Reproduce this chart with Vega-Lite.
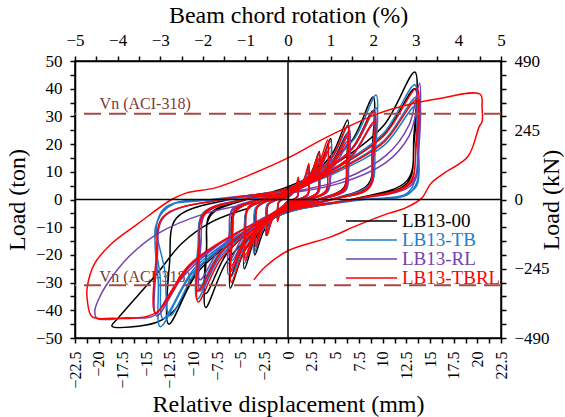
{
"$schema":"https://vega.github.io/schema/vega-lite/v6.json",
"width":426,"height":277,
"autosize":{"type":"none"},
"padding":{"left":75,"top":61,"right":64,"bottom":79},
"background":"white",
"config":{
"font":"Liberation Serif",
"view":{"stroke":"black","strokeWidth":1.5},
"axis":{"grid":false,"domainColor":"black","domainWidth":1.5,"tickColor":"black","tickWidth":1.5,"labelColor":"black","titleColor":"black","labelFont":"Liberation Serif","titleFont":"Liberation Serif","titleFontWeight":"normal","labelFontSize":17,"titleFontSize":24,"labelFlush":false,"labelOverlap":false,"tickSize":5}
},
"datasets":{
"b":[{"x":0,"y":0},
{"x":0,"y":0.7},{"x":0.4,"y":2.1},{"x":0.8,"y":4.1},{"x":1.1,"y":7},{"x":1.1,"y":3.5},{"x":1,"y":1.1},{"x":0.6,"y":0},{"x":0,"y":-0.7},{"x":-0.4,"y":-2.1},{"x":-0.8,"y":-4.1},{"x":-1.1,"y":-7},{"x":-1.1,"y":-3.5},{"x":-1,"y":-1.1},{"x":-0.6,"y":0},
{"x":0,"y":1.2},{"x":0.9,"y":3.6},{"x":1.7,"y":7},{"x":2.2,"y":12},{"x":2.2,"y":6},{"x":2.1,"y":1.8},{"x":1.1,"y":0},{"x":0,"y":-1.3},{"x":-0.9,"y":-3.9},{"x":-1.7,"y":-7.5},{"x":-2.3,"y":-13},{"x":-2.3,"y":-6.5},{"x":-2.2,"y":-2},{"x":-1.2,"y":0},
{"x":0,"y":1.7},{"x":1.3,"y":5.2},{"x":2.5,"y":10},{"x":3.3,"y":17.3},{"x":3.3,"y":8.7},{"x":3.1,"y":2.6},{"x":1.7,"y":0},{"x":0,"y":-2},{"x":-1.4,"y":-6},{"x":-2.6,"y":-11.6},{"x":-3.5,"y":-20},{"x":-3.5,"y":-10},{"x":-3.3,"y":-3},{"x":-1.8,"y":0},
{"x":0,"y":2.2},{"x":1.8,"y":6.6},{"x":3.4,"y":12.8},{"x":4.5,"y":22},{"x":4.5,"y":11},{"x":4.2,"y":3.3},{"x":2.3,"y":0},{"x":0,"y":-2.5},{"x":-1.8,"y":-7.5},{"x":-3.5,"y":-14.5},{"x":-4.6,"y":-25},{"x":-4.6,"y":-12.5},{"x":-4.3,"y":-3.8},{"x":-2.3,"y":0},
{"x":0,"y":2.9},{"x":2.5,"y":8.6},{"x":4.7,"y":16.6},{"x":6.3,"y":28.7},{"x":6.2,"y":14.4},{"x":5.9,"y":4.3},{"x":3.2,"y":0},{"x":0,"y":-3.2},{"x":-2.4,"y":-9.6},{"x":-4.6,"y":-18.6},{"x":-6.1,"y":-32},{"x":-6,"y":-16},{"x":-5.7,"y":-4.8},{"x":-3.1,"y":0},
{"x":0,"y":2.4},{"x":2.5,"y":7.2},{"x":4.7,"y":13.9},{"x":6.3,"y":24},{"x":6.2,"y":12},{"x":5.9,"y":3.6},{"x":3.2,"y":0},{"x":0,"y":-2.8},{"x":-2.4,"y":-8.4},{"x":-4.6,"y":-16.2},{"x":-6.1,"y":-28},{"x":-6,"y":-14},{"x":-5.7,"y":-4.2},{"x":-3.1,"y":0},
{"x":0,"y":3.7},{"x":3.6,"y":11.1},{"x":6.8,"y":21.5},{"x":9,"y":37},{"x":8.9,"y":18.5},{"x":8.5,"y":5.6},{"x":4.5,"y":0},{"x":0,"y":-3.9},{"x":-3.5,"y":-11.7},{"x":-6.5,"y":-22.6},{"x":-8.7,"y":-39},{"x":-8.6,"y":-19.5},{"x":-8.2,"y":-5.9},{"x":-4.4,"y":0},
{"x":0,"y":3.2},{"x":3.6,"y":9.6},{"x":6.8,"y":18.6},{"x":9,"y":32},{"x":8.9,"y":16},{"x":8.5,"y":4.8},{"x":4.5,"y":0},{"x":0,"y":-3.4},{"x":-3.5,"y":-10.2},{"x":-6.5,"y":-19.7},{"x":-8.7,"y":-34},{"x":-8.6,"y":-17},{"x":-8.2,"y":-5.1},{"x":-4.4,"y":0},
{"x":0,"y":4.6},{"x":5.4,"y":13.8},{"x":10.1,"y":26.7},{"x":13.4,"y":46},{"x":13.3,"y":23},{"x":12.6,"y":6.9},{"x":6.7,"y":0},{"x":0,"y":-4.5},{"x":-5,"y":-13.5},{"x":-9.5,"y":-26.1},{"x":-12.6,"y":-45},{"x":-12.5,"y":-22.5},{"x":-11.8,"y":-6.8},{"x":-6.3,"y":0},
{"x":0,"y":4},{"x":5.4,"y":12},{"x":10.1,"y":23.2},{"x":13.4,"y":40},{"x":13.3,"y":20},{"x":12.6,"y":6},{"x":6.7,"y":0},{"x":0,"y":-4.5},{"x":-5,"y":-13},{"x":-9.5,"y":-25},{"x":-12,"y":-40},{"x":-14,"y":-44.5},{"x":-18.6,"y":-45.7},{"x":-18,"y":-43},{"x":-13.8,"y":-26.6},{"x":-11.2,"y":-15.8},{"x":-8,"y":-8},{"x":-4,"y":-3}],
"t":[{"x":0,"y":0},
{"x":0,"y":0.7},{"x":0.4,"y":2},{"x":0.8,"y":3.8},{"x":1.1,"y":6.5},{"x":1.1,"y":3.3},{"x":1,"y":1},{"x":0.6,"y":0},{"x":0,"y":-0.7},{"x":-0.4,"y":-2.1},{"x":-0.8,"y":-4.1},{"x":-1.1,"y":-7},{"x":-1.1,"y":-3.5},{"x":-1,"y":-1.1},{"x":-0.6,"y":0},
{"x":0,"y":1.2},{"x":0.9,"y":3.5},{"x":1.7,"y":6.7},{"x":2.2,"y":11.5},{"x":2.2,"y":5.8},{"x":2.1,"y":1.7},{"x":1.1,"y":0},{"x":0,"y":-1.3},{"x":-0.9,"y":-3.8},{"x":-1.7,"y":-7.3},{"x":-2.3,"y":-12.5},{"x":-2.3,"y":-6.3},{"x":-2.2,"y":-1.9},{"x":-1.2,"y":0},
{"x":0,"y":1.7},{"x":1.3,"y":5},{"x":2.5,"y":9.6},{"x":3.3,"y":16.5},{"x":3.3,"y":8.3},{"x":3.1,"y":2.5},{"x":1.7,"y":0},{"x":0,"y":-1.9},{"x":-1.4,"y":-5.8},{"x":-2.7,"y":-11.3},{"x":-3.6,"y":-19.4},{"x":-3.6,"y":-9.7},{"x":-3.4,"y":-2.9},{"x":-1.8,"y":0},
{"x":0,"y":2.1},{"x":1.8,"y":6.3},{"x":3.4,"y":12.2},{"x":4.5,"y":21},{"x":4.5,"y":10.5},{"x":4.2,"y":3.2},{"x":2.3,"y":0},{"x":0,"y":-2.3},{"x":-1.8,"y":-6.9},{"x":-3.5,"y":-13.3},{"x":-4.6,"y":-23},{"x":-4.6,"y":-11.5},{"x":-4.3,"y":-3.5},{"x":-2.3,"y":0},
{"x":0,"y":2.7},{"x":2.6,"y":8.1},{"x":4.8,"y":15.7},{"x":6.4,"y":27},{"x":6.3,"y":13.5},{"x":6,"y":4.1},{"x":3.2,"y":0},{"x":0,"y":-2.8},{"x":-2.4,"y":-8.4},{"x":-4.5,"y":-16.2},{"x":-6,"y":-28},{"x":-5.9,"y":-14},{"x":-5.6,"y":-4.2},{"x":-3,"y":0},
{"x":0,"y":2.3},{"x":2.6,"y":6.9},{"x":4.8,"y":13.3},{"x":6.4,"y":23},{"x":6.3,"y":11.5},{"x":6,"y":3.5},{"x":3.2,"y":0},{"x":0,"y":-2.2},{"x":-2.4,"y":-6.6},{"x":-4.4,"y":-12.8},{"x":-5.9,"y":-22},{"x":-5.8,"y":-11},{"x":-5.5,"y":-3.3},{"x":-3,"y":0},
{"x":0,"y":3.8},{"x":3.7,"y":11.3},{"x":7,"y":21.9},{"x":9.3,"y":37.7},{"x":9.2,"y":18.9},{"x":8.7,"y":5.7},{"x":4.7,"y":0},{"x":0,"y":-3.6},{"x":-3.8,"y":-10.8},{"x":-7.2,"y":-20.9},{"x":-9.6,"y":-36},{"x":-9.5,"y":-18},{"x":-9,"y":-5.4},{"x":-4.8,"y":0},
{"x":0,"y":3.3},{"x":3.7,"y":9.9},{"x":7,"y":19.1},{"x":9.3,"y":33},{"x":9.2,"y":16.5},{"x":8.7,"y":5},{"x":4.7,"y":0},{"x":0,"y":-3.3},{"x":-3.8,"y":-9.9},{"x":-7.2,"y":-19.1},{"x":-9.6,"y":-33},{"x":-9.5,"y":-16.5},{"x":-9,"y":-5},{"x":-4.8,"y":0},
{"x":0,"y":4.1},{"x":5.4,"y":12.4},{"x":10.1,"y":24},{"x":13.4,"y":41.4},{"x":13.6,"y":25},{"x":13.5,"y":8},{"x":12.5,"y":2},{"x":8,"y":0},{"x":0,"y":-4.6},{"x":-5.4,"y":-13.8},{"x":-10.1,"y":-26.6},{"x":-13.5,"y":-45.9},{"x":-13.7,"y":-30},{"x":-14,"y":-12},{"x":-13,"y":-3},{"x":-8,"y":0},
{"x":0,"y":3.7},{"x":5.4,"y":11.1},{"x":10.2,"y":21.5},{"x":13.6,"y":37},{"x":13.7,"y":20},{"x":13.6,"y":6},{"x":12.5,"y":1.5},{"x":8,"y":0},{"x":0,"y":-4.3},{"x":-5.3,"y":-12.9},{"x":-9.9,"y":-24.9},{"x":-13.2,"y":-43},{"x":-13.5,"y":-28},{"x":-14,"y":-10},{"x":-12.5,"y":-2},{"x":-7,"y":0},
{"x":0,"y":3.4},{"x":5.4,"y":10.2},{"x":10.2,"y":19.7},{"x":13.6,"y":34},{"x":13.8,"y":18},{"x":13.6,"y":5},{"x":12,"y":1},{"x":7,"y":0},{"x":0,"y":-4.2},{"x":-5,"y":-12.6},{"x":-9.4,"y":-24.4},{"x":-12.5,"y":-42},{"x":-13,"y":-26},{"x":-13.8,"y":-8},{"x":-12,"y":-1.5},{"x":-6,"y":0},{"x":-2,"y":0.5}],
"p":[{"x":0,"y":0},
{"x":0,"y":0.6},{"x":0.4,"y":1.8},{"x":0.8,"y":3.5},{"x":1.1,"y":6},{"x":1.1,"y":3},{"x":1,"y":0.9},{"x":0.6,"y":0},{"x":0,"y":-0.6},{"x":-0.4,"y":-1.8},{"x":-0.8,"y":-3.5},{"x":-1.1,"y":-6},{"x":-1.1,"y":-3},{"x":-1,"y":-0.9},{"x":-0.6,"y":0},
{"x":0,"y":1.1},{"x":0.9,"y":3.2},{"x":1.7,"y":6.1},{"x":2.2,"y":10.5},{"x":2.2,"y":5.3},{"x":2.1,"y":1.6},{"x":1.1,"y":0},{"x":0,"y":-1.1},{"x":-0.9,"y":-3.3},{"x":-1.7,"y":-6.4},{"x":-2.2,"y":-11},{"x":-2.2,"y":-5.5},{"x":-2.1,"y":-1.7},{"x":-1.1,"y":0},
{"x":0,"y":1.5},{"x":1.4,"y":4.5},{"x":2.6,"y":8.7},{"x":3.4,"y":15},{"x":3.4,"y":7.5},{"x":3.2,"y":2.3},{"x":1.7,"y":0},{"x":0,"y":-1.6},{"x":-1.4,"y":-4.8},{"x":-2.6,"y":-9.3},{"x":-3.4,"y":-16},{"x":-3.4,"y":-8},{"x":-3.2,"y":-2.4},{"x":-1.7,"y":0},
{"x":0,"y":1.9},{"x":1.8,"y":5.7},{"x":3.4,"y":11},{"x":4.5,"y":19},{"x":4.5,"y":9.5},{"x":4.2,"y":2.9},{"x":2.3,"y":0},{"x":0,"y":-2.1},{"x":-1.8,"y":-6.3},{"x":-3.4,"y":-12.2},{"x":-4.5,"y":-21},{"x":-4.5,"y":-10.5},{"x":-4.2,"y":-3.2},{"x":-2.3,"y":0},
{"x":0,"y":2.5},{"x":2.6,"y":7.5},{"x":4.9,"y":14.5},{"x":6.5,"y":25},{"x":6.4,"y":12.5},{"x":6.1,"y":3.8},{"x":3.3,"y":0},{"x":0,"y":-2.7},{"x":-2.5,"y":-8.1},{"x":-4.7,"y":-15.7},{"x":-6.3,"y":-27},{"x":-6.2,"y":-13.5},{"x":-5.9,"y":-4.1},{"x":-3.2,"y":0},
{"x":0,"y":2.1},{"x":2.6,"y":6.3},{"x":4.9,"y":12.2},{"x":6.5,"y":21},{"x":6.4,"y":10.5},{"x":6.1,"y":3.2},{"x":3.3,"y":0},{"x":0,"y":-2.3},{"x":-2.5,"y":-6.9},{"x":-4.7,"y":-13.3},{"x":-6.3,"y":-23},{"x":-6.2,"y":-11.5},{"x":-5.9,"y":-3.5},{"x":-3.2,"y":0},
{"x":0,"y":3.2},{"x":3.6,"y":9.5},{"x":6.8,"y":18.3},{"x":9,"y":31.6},{"x":8.9,"y":15.8},{"x":8.5,"y":4.7},{"x":4.5,"y":0},{"x":0,"y":-3.3},{"x":-3.7,"y":-9.9},{"x":-7,"y":-19.1},{"x":-9.3,"y":-33},{"x":-9.2,"y":-16.5},{"x":-8.7,"y":-5},{"x":-4.7,"y":0},
{"x":0,"y":2.7},{"x":3.6,"y":8.1},{"x":6.8,"y":15.7},{"x":9,"y":27},{"x":8.9,"y":13.5},{"x":8.5,"y":4.1},{"x":4.5,"y":0},{"x":0,"y":-2.9},{"x":-3.7,"y":-8.7},{"x":-7,"y":-16.8},{"x":-9.3,"y":-29},{"x":-9.2,"y":-14.5},{"x":-8.7,"y":-4.4},{"x":-4.7,"y":0},
{"x":0,"y":2.5},{"x":5.6,"y":7},{"x":10.4,"y":16},{"x":12.8,"y":27},{"x":13.9,"y":42},{"x":13.8,"y":21},{"x":13.1,"y":6.3},{"x":7,"y":0},{"x":0,"y":-4.2},{"x":-5.6,"y":-12.6},{"x":-10.4,"y":-24.4},{"x":-13.9,"y":-42},{"x":-13.8,"y":-21},{"x":-13.1,"y":-6.3},{"x":-7,"y":0},
{"x":0,"y":2.2},{"x":5.6,"y":6},{"x":10.4,"y":13.5},{"x":12.8,"y":23},{"x":13.9,"y":36},{"x":13.8,"y":18},{"x":13.1,"y":5.4},{"x":7,"y":0},{"x":0,"y":-4},{"x":-5.4,"y":-12},{"x":-10,"y":-24},{"x":-12.5,"y":-34},{"x":-14.2,"y":-42},{"x":-17,"y":-42.7},{"x":-20.2,"y":-42.9},{"x":-20.4,"y":-40},{"x":-20,"y":-36},{"x":-19.3,"y":-31.5},{"x":-16.8,"y":-20.6},{"x":-13.7,"y":-12.2},{"x":-8.7,"y":-5},{"x":-4,"y":-1.5},{"x":-1,"y":0}],
"r":[{"x":0,"y":0},
{"x":0,"y":0.8},{"x":0.4,"y":2.4},{"x":0.8,"y":4.6},{"x":1.1,"y":8},{"x":1.1,"y":4},{"x":1,"y":1.2},{"x":0.6,"y":0},{"x":0,"y":-0.8},{"x":-0.4,"y":-2.4},{"x":-0.8,"y":-4.6},{"x":-1.1,"y":-8},{"x":-1.1,"y":-4},{"x":-1,"y":-1.2},{"x":-0.6,"y":0},
{"x":0,"y":1.3},{"x":0.9,"y":3.9},{"x":1.7,"y":7.5},{"x":2.2,"y":13},{"x":2.2,"y":6.5},{"x":2.1,"y":2},{"x":1.1,"y":0},{"x":0,"y":-1.3},{"x":-0.9,"y":-3.9},{"x":-1.7,"y":-7.5},{"x":-2.2,"y":-13},{"x":-2.2,"y":-6.5},{"x":-2.1,"y":-2},{"x":-1.1,"y":0},
{"x":0,"y":1.7},{"x":1.3,"y":5.1},{"x":2.5,"y":9.9},{"x":3.3,"y":17},{"x":3.3,"y":8.5},{"x":3.1,"y":2.6},{"x":1.7,"y":0},{"x":0,"y":-1.7},{"x":-1.4,"y":-5.1},{"x":-2.6,"y":-9.9},{"x":-3.4,"y":-17},{"x":-3.4,"y":-8.5},{"x":-3.2,"y":-2.6},{"x":-1.7,"y":0},
{"x":0,"y":1.5},{"x":1.3,"y":4.5},{"x":2.5,"y":8.7},{"x":3.3,"y":15},{"x":3.3,"y":7.5},{"x":3.1,"y":2.3},{"x":1.7,"y":0},{"x":0,"y":-1.5},{"x":-1.4,"y":-4.5},{"x":-2.6,"y":-8.7},{"x":-3.4,"y":-15},{"x":-3.4,"y":-7.5},{"x":-3.2,"y":-2.3},{"x":-1.7,"y":0},
{"x":0,"y":2.2},{"x":1.7,"y":6.5},{"x":3.2,"y":12.5},{"x":4.2,"y":21.5},{"x":4.2,"y":10.8},{"x":4,"y":3.2},{"x":2.1,"y":0},{"x":0,"y":-2.2},{"x":-1.8,"y":-6.6},{"x":-3.4,"y":-12.8},{"x":-4.5,"y":-22},{"x":-4.5,"y":-11},{"x":-4.2,"y":-3.3},{"x":-2.3,"y":0},
{"x":0,"y":1.9},{"x":1.7,"y":5.7},{"x":3.2,"y":11},{"x":4.2,"y":19},{"x":4.2,"y":9.5},{"x":4,"y":2.9},{"x":2.1,"y":0},{"x":0,"y":-2},{"x":-1.8,"y":-6},{"x":-3.4,"y":-11.6},{"x":-4.5,"y":-20},{"x":-4.5,"y":-10},{"x":-4.2,"y":-3},{"x":-2.3,"y":0},
{"x":0,"y":1.8},{"x":1.7,"y":5.3},{"x":3.2,"y":10.2},{"x":4.2,"y":17.5},{"x":4.2,"y":8.8},{"x":4,"y":2.6},{"x":2.1,"y":0},{"x":0,"y":-1.8},{"x":-1.8,"y":-5.4},{"x":-3.4,"y":-10.4},{"x":-4.5,"y":-18},{"x":-4.5,"y":-9},{"x":-4.2,"y":-2.7},{"x":-2.3,"y":0},
{"x":0,"y":2.7},{"x":2.5,"y":8},{"x":4.7,"y":15.5},{"x":6.3,"y":26.8},{"x":6.2,"y":13.4},{"x":5.9,"y":4},{"x":3.2,"y":0},{"x":0,"y":-3},{"x":-2.4,"y":-9},{"x":-4.5,"y":-17.4},{"x":-6,"y":-30},{"x":-5.9,"y":-15},{"x":-5.6,"y":-4.5},{"x":-3,"y":0},
{"x":0,"y":2.3},{"x":2.5,"y":6.9},{"x":4.7,"y":13.3},{"x":6.3,"y":23},{"x":6.2,"y":11.5},{"x":5.9,"y":3.5},{"x":3.2,"y":0},{"x":0,"y":-2.6},{"x":-2.4,"y":-7.8},{"x":-4.5,"y":-15.1},{"x":-6,"y":-26},{"x":-5.9,"y":-13},{"x":-5.6,"y":-3.9},{"x":-3,"y":0},
{"x":0,"y":2.1},{"x":2.5,"y":6.3},{"x":4.7,"y":12.2},{"x":6.3,"y":21},{"x":6.2,"y":10.5},{"x":5.9,"y":3.2},{"x":3.2,"y":0},{"x":0,"y":-2.4},{"x":-2.4,"y":-7.2},{"x":-4.5,"y":-13.9},{"x":-6,"y":-24},{"x":-5.9,"y":-12},{"x":-5.6,"y":-3.6},{"x":-3,"y":0},
{"x":0,"y":3.2},{"x":3.6,"y":9.6},{"x":6.8,"y":18.5},{"x":9.1,"y":31.9},{"x":9,"y":16},{"x":8.6,"y":4.8},{"x":4.6,"y":0},{"x":0,"y":-3.7},{"x":-3.8,"y":-11.1},{"x":-7.1,"y":-21.5},{"x":-9.5,"y":-37},{"x":-9.4,"y":-18.5},{"x":-8.9,"y":-5.6},{"x":-4.8,"y":0},
{"x":0,"y":2.8},{"x":3.6,"y":8.4},{"x":6.8,"y":16.2},{"x":9.1,"y":28},{"x":9,"y":14},{"x":8.6,"y":4.2},{"x":4.6,"y":0},{"x":0,"y":-3.3},{"x":-3.8,"y":-9.9},{"x":-7.1,"y":-19.1},{"x":-9.5,"y":-33},{"x":-9.4,"y":-16.5},{"x":-8.9,"y":-5},{"x":-4.8,"y":0},
{"x":0,"y":4},{"x":5.4,"y":12},{"x":10.2,"y":23.3},{"x":13.6,"y":40.1},{"x":13.5,"y":20},{"x":12.8,"y":6},{"x":6.8,"y":0},{"x":0,"y":-4.1},{"x":-5.6,"y":-12.3},{"x":-10.5,"y":-23.8},{"x":-14,"y":-41},{"x":-13.9,"y":-20.5},{"x":-13.2,"y":-6.2},{"x":-7,"y":0},
{"x":0,"y":3.6},{"x":5.4,"y":10.8},{"x":10.2,"y":20.9},{"x":13.6,"y":36},{"x":13.5,"y":18},{"x":12.8,"y":5.4},{"x":6.8,"y":0},{"x":0,"y":-4},{"x":-5.4,"y":-12},{"x":-10.2,"y":-23.2},{"x":-13.6,"y":-40},{"x":-15,"y":-42.3},{"x":-18.6,"y":-42.9},{"x":-20.7,"y":-42.3},{"x":-21.2,"y":-36.3},{"x":-21.2,"y":-31.5},{"x":-20.4,"y":-23},{"x":-18.6,"y":-15.8},{"x":-15.8,"y":-8.6},{"x":-12.3,"y":0},{"x":-10.7,"y":2.4},{"x":-7.7,"y":4.2},{"x":-4.1,"y":8.8},{"x":0,"y":15},{"x":4.2,"y":22.7},{"x":9.5,"y":31},{"x":13,"y":34.5},{"x":16,"y":36.5},{"x":20.3,"y":38},{"x":20.5,"y":33},{"x":20.5,"y":28.1},{"x":20.2,"y":26.3},{"x":19,"y":15.5},{"x":16.5,"y":9.5},{"x":15.1,"y":5.8},{"x":14.1,"y":0.4},{"x":12.3,"y":-3.2},{"x":10.6,"y":-5},{"x":7,"y":-9.8},{"x":4.6,"y":-13.4},{"x":0,"y":-18.5},{"x":-2.4,"y":-24.3},{"x":-3.6,"y":-29}]
},
"layer":[
{"layer":[
{"data":{"values":[{"x":-19.9,"y":32.7,"t":"Vn (ACI-318)"},{"x":-19.9,"y":-29.8,"t":"Vn (ACI-318)"}]},
"mark":{"type":"text","align":"left","baseline":"alphabetic","fontSize":16,"color":"#7B3A3A","font":"Liberation Serif"},
"encoding":{"x":{"field":"x","type":"quantitative"},"y":{"field":"y","type":"quantitative"},"text":{"field":"t"}}},
{"data":{"name":"b"},"mark":{"type":"line","strokeWidth":1.5,"order":false,"interpolate":"catmull-rom"},
"encoding":{
"x":{"field":"x","type":"quantitative","scale":{"domain":[-22.5,22.5],"nice":false,"zero":false},
"axis":{"title":"Relative displacement (mm)","tickCount":100,"values":[-22.5,-21.25,-20,-18.75,-17.5,-16.25,-15,-13.75,-12.5,-11.25,-10,-8.75,-7.5,-6.25,-5,-3.75,-2.5,-1.25,0,1.25,2.5,3.75,5,6.25,7.5,8.75,10,11.25,12.5,13.75,15,16.25,17.5,18.75,20,21.25,22.5],"format":".1~f","labelExpr":"datum.value % 2.5 == 0 ? datum.label : ''","labelOverlap":false,"labelAngle":270,"labelFontSize":16,"labelPadding":8,"titlePadding":4,
"encode":{"ticks":{"update":{"y":{"signal":"datum.value % 2.5 == 0 ? -5 : -3"},"y2":{"signal":"datum.value % 2.5 == 0 ? 5 : 0"}}}}}},
"y":{"field":"y","type":"quantitative","scale":{"domain":[-50,50],"nice":false,"zero":false},
"axis":{"title":"Load (ton)","tickCount":100,"values":[-50,-45,-40,-35,-30,-25,-20,-15,-10,-5,0,5,10,15,20,25,30,35,40,45,50],"format":"d","labelExpr":"datum.value % 10 == 0 ? datum.label : ''","labelOverlap":false,"labelPadding":8,"titlePadding":6,
"encode":{"ticks":{"update":{"x":{"signal":"datum.value % 10 == 0 ? -5 : 0"},"x2":{"signal":"datum.value % 10 == 0 ? 5 : 3"}}}}}},
"color":{"datum":"LB13-00","type":"nominal","scale":{"domain":["LB13-00","LB13-TB","LB13-RL","LB13-TBRL"],"range":["#000000","#1C7ECB","#7540B0","#FF0000"]},
"legend":{"orient":"none","legendX":270,"legendY":152,"title":null,"symbolType":"stroke","symbolSize":2601,"symbolStrokeWidth":1.5,"labelFontSize":19,"labelFont":"Liberation Serif","clipHeight":16,"rowPadding":0,"labelOffset":4,"padding":0,"labelLimit":300,
"encode":{"labels":{"update":{"fill":{"signal":"scale('color', datum.value)"}}}}}}}},
{"data":{"name":"t"},"mark":{"type":"line","strokeWidth":1.5,"order":false,"interpolate":"catmull-rom"},
"encoding":{"x":{"field":"x","type":"quantitative"},"y":{"field":"y","type":"quantitative"},"color":{"datum":"LB13-TB","type":"nominal"}}},
{"data":{"name":"p"},"mark":{"type":"line","strokeWidth":1.5,"order":false,"interpolate":"catmull-rom"},
"encoding":{"x":{"field":"x","type":"quantitative"},"y":{"field":"y","type":"quantitative"},"color":{"datum":"LB13-RL","type":"nominal"}}},
{"data":{"name":"r"},"mark":{"type":"line","strokeWidth":1.5,"order":false,"interpolate":"catmull-rom"},
"encoding":{"x":{"field":"x","type":"quantitative"},"y":{"field":"y","type":"quantitative"},"color":{"datum":"LB13-TBRL","type":"nominal"}}},
{"data":{"values":[{"y":31},{"y":-31}]},"mark":{"type":"rule","color":"#A34A44","strokeWidth":2,"strokeDash":[17,8]},
"encoding":{"y":{"field":"y","type":"quantitative"}}},
{"data":{"values":[{"y":0}]},"mark":{"type":"rule","color":"black","strokeWidth":1.5},
"encoding":{"y":{"field":"y","type":"quantitative"}}},
{"data":{"values":[{"x":0}]},"mark":{"type":"rule","color":"black","strokeWidth":1.5},
"encoding":{"x":{"field":"x","type":"quantitative"}}}
]},
{"data":{"values":[{"r":0,"k":0}]},"mark":{"type":"point","opacity":0},
"encoding":{
"x":{"field":"r","type":"quantitative","scale":{"domain":[-5,5],"nice":false,"zero":false},
"axis":{"orient":"top","title":"Beam chord rotation (%)","values":[-5,-4.5,-4,-3.5,-3,-2.5,-2,-1.5,-1,-0.5,0,0.5,1,1.5,2,2.5,3,3.5,4,4.5,5],"format":".1~f","labelExpr":"datum.value % 1 == 0 ? datum.label : ''","labelOverlap":false,"labelPadding":7,"titlePadding":4,
"encode":{"ticks":{"update":{"y":{"signal":"datum.value % 1 == 0 ? -5 : 0"},"y2":{"signal":"datum.value % 1 == 0 ? 5 : 3"}}}}}},
"y":{"field":"k","type":"quantitative","scale":{"domain":[-490,490],"nice":false,"zero":false},
"axis":{"orient":"right","title":"Load (kN)","titleAngle":270,"values":[-490,-441,-392,-343,-294,-245,-196,-147,-98,-49,0,49,98,147,196,245,294,343,392,441,490],"format":"d","labelExpr":"datum.value % 245 == 0 ? datum.label : ''","labelOverlap":false,"labelPadding":8,"titlePadding":14,
"encode":{"ticks":{"update":{"x":{"signal":"datum.value % 245 == 0 ? -5 : -3"},"x2":{"signal":"datum.value % 245 == 0 ? 5 : 0"}}}}}}}}
],
"resolve":{"scale":{"x":"independent","y":"independent"}}
}
